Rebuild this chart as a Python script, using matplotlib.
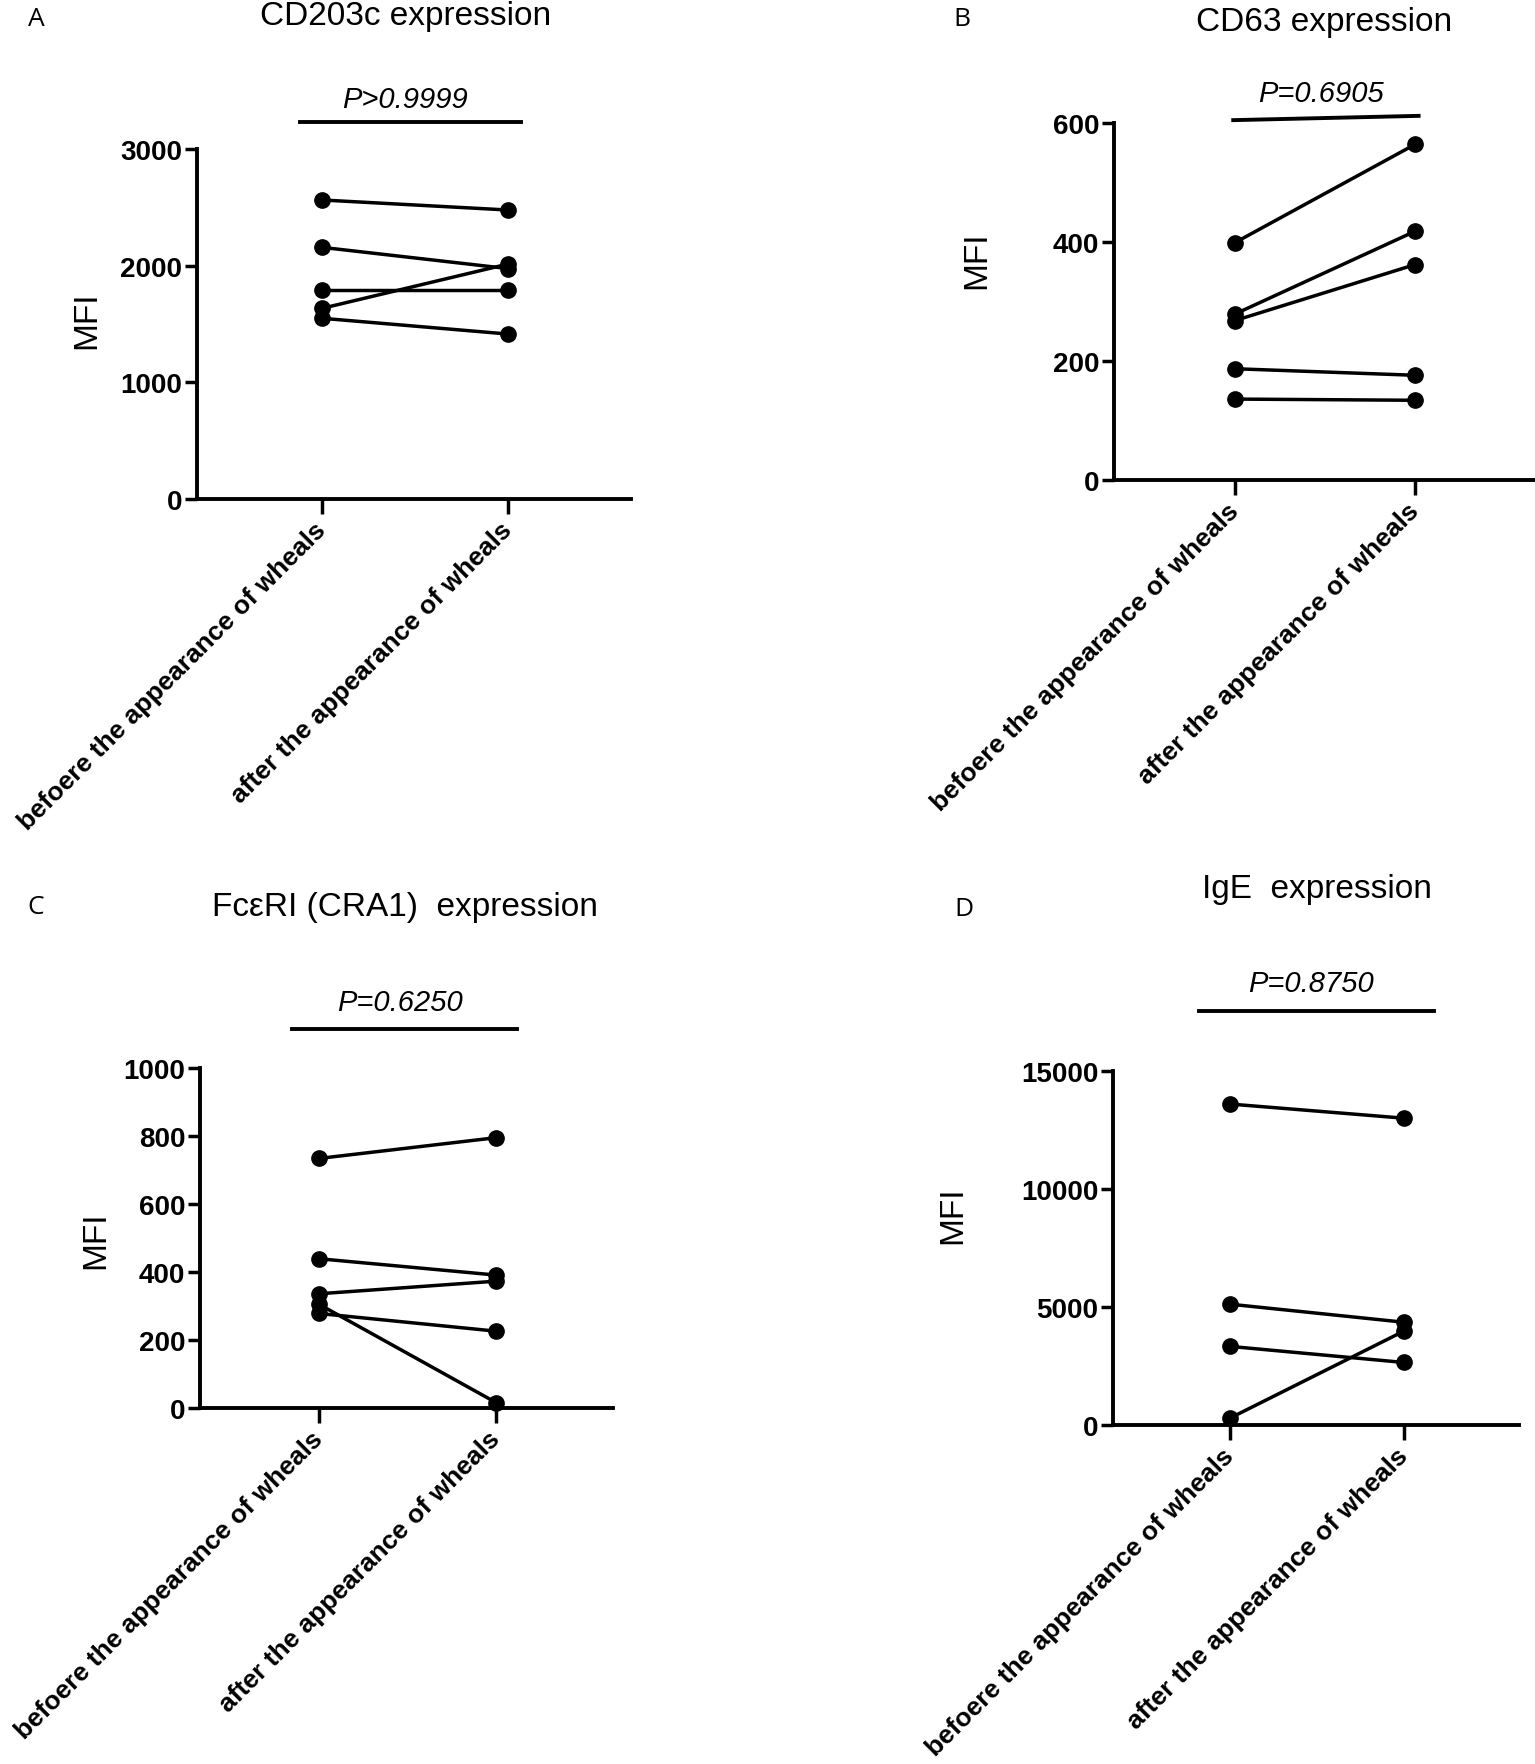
import matplotlib
matplotlib.use("Agg")
import matplotlib.pyplot as plt
import matplotlib.transforms as mtransforms

plt.rcParams['font.family'] = ['Liberation Sans', 'DejaVu Sans']

# --- data ---
groups = ["befoere the appearance of wheals", "after the appearance of wheals"]

cd203c_before = [2563, 2157, 1794, 1634, 1549]
cd203c_after = [2477, 1975, 1794, 2014, 1414]

cd63_before = [399, 279, 268, 187, 136]
cd63_after = [564, 418, 362, 176, 134]

fceri_before = [734, 439, 336, 305, 278]
fceri_after = [795, 391, 373, 16, 226]

ige_before = [13600, 5119, 3331, 292]
ige_after = [13000, 4355, 2649, 3981]

titles = ["CD203c expression", "CD63 expression",
          "Fc\u03b5RI (CRA1)  expression", "IgE  expression"]
pvals = ["P>0.9999", "P=0.6905", "P=0.6250", "P=0.8750"]
letters = ["A", "B", "C", "D"]
yticks = [[0, 1000, 2000, 3000], [0, 200, 400, 600],
          [0, 200, 400, 600, 800, 1000], [0, 5000, 10000, 15000]]

W, H = 1535, 1765
fig = plt.figure(figsize=(W / 100, H / 100), dpi=100)

XLIM = (-0.67, 1.66)

# panel layout in pixels: (first category x, px per category unit, top y, bottom y)
layout = [
    (322, 186, 150, 500),
    (1235, 180, 124, 481),
    (319, 177, 1069, 1409),
    (1230, 174, 1072, 1426),
]
# significance bar: x0, x1 (data), y left/right (axes fraction), p-label y
sig = [
    (-0.12, 1.07, 1.077, 1.077, 1.143),
    (-0.01, 1.02, 1.008, 1.020, 1.084),
    (-0.15, 1.12, 1.115, 1.115, 1.194),
    (-0.18, 1.17, 1.169, 1.169, 1.249),
]
# title / letter / MFI label positions (pixels)
title_pos = [(406, 17), (1324, 22), (405, 908), (1317, 890)]
letter_pos = [(36, 20), (962, 20), (36, 908), (964, 910)]
mfi_pos = [(87, 320), (977, 260), (96, 1240), (953, 1215)]

series = [(cd203c_before, cd203c_after), (cd63_before, cd63_after),
          (fceri_before, fceri_after), (ige_before, ige_after)]

for i, (x0px, unit, top, bot) in enumerate(layout):
    left = x0px + XLIM[0] * unit
    width = (XLIM[1] - XLIM[0]) * unit
    ax = fig.add_axes([left / W, 1 - bot / H, width / W, (bot - top) / H])
    before, after = series[i]
    for b, a in zip(before, after):
        ax.plot([0, 1], [b, a], color="black", lw=2.5, marker="o",
                markersize=11, clip_on=False, zorder=3)
    ax.set_xlim(*XLIM)
    ax.set_ylim(0, yticks[i][-1])
    ax.set_yticks(yticks[i])
    ax.set_yticklabels([str(t) for t in yticks[i]], fontsize=20, fontweight="bold")
    ax.set_xticks([0, 1])
    ax.set_xticklabels(groups, rotation=45, ha="right", va="center",
                       rotation_mode="anchor", fontsize=19, fontweight="bold")
    for s in ["top", "right"]:
        ax.spines[s].set_visible(False)
    for s in ["left", "bottom"]:
        ax.spines[s].set_linewidth(2.8)
    ax.tick_params(axis="y", length=9, width=2.5, pad=2)
    ax.tick_params(axis="x", length=11, width=2.5, pad=8)

    trans = mtransforms.blended_transform_factory(ax.transData, ax.transAxes)
    sx0, sx1, sy0, sy1, py = sig[i]
    ax.plot([sx0, sx1], [sy0, sy1], color="black", lw=2.8, transform=trans,
            clip_on=False)
    ax.text((sx0 + sx1) / 2 - 0.03, py, pvals[i], transform=trans, ha="center",
            va="center", fontsize=21, style="italic")

    tx, ty = title_pos[i]
    fig.text(tx / W, 1 - ty / H, titles[i], ha="center", va="center", fontsize=24)
    lx, ly = letter_pos[i]
    fig.text(lx / W, 1 - ly / H, letters[i], ha="center", va="center",
             fontsize=19, family="Open Sans")
    mx, my = mfi_pos[i]
    fig.text(mx / W, 1 - my / H, "MFI", ha="center", va="center",
             rotation=90, fontsize=24)

fig.savefig("out.png", dpi=100, facecolor="white")
